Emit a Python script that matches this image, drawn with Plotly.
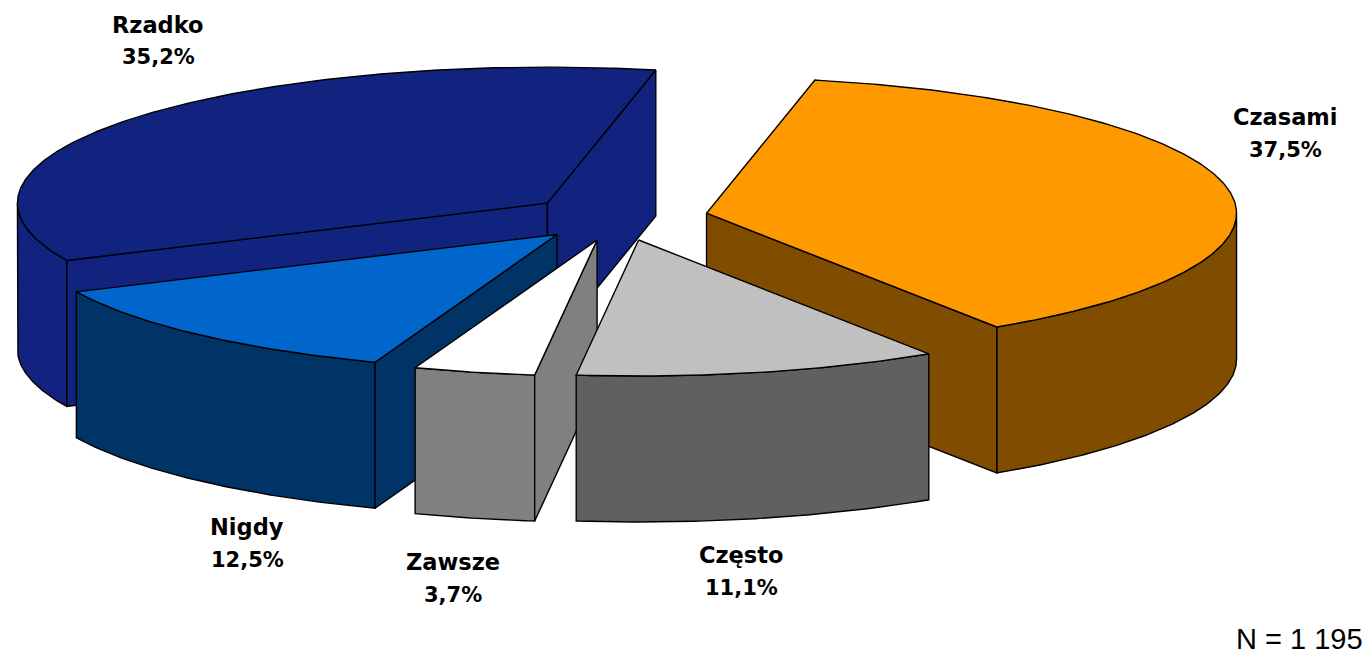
import numpy as np
import plotly.graph_objects as go

# Survey answers, clockwise from the start angle
categories = ["Czasami", "Często", "Zawsze", "Nigdy", "Rzadko"]
shares = [37.5, 11.1, 3.7, 12.5, 35.2]
top_colors = ["#ff9900", "#c0c0c0", "#ffffff", "#0066cc", "#12237f"]
side_colors = ["#804c00", "#606060", "#808080", "#003366", "#12237f"]
sample_note = "N = 1 195"

# Label anchors (centre x, name y, value y)
label_anchor = {
    "Czasami": (1285, 117, 150),
    "Często": (741, 555, 588),
    "Zawsze": (453, 562, 595),
    "Nigdy": (247, 527, 560),
    "Rzadko": (158, 25, 57),
}

# Oblique projection of the exploded pie
CX, CY = 618, 217.5
RX, RY = 530, 136
DEPTH = 146
EXPLODE = 0.17
START = 11.8
DRAW_ORDER = ["Rzadko", "Nigdy", "Czasami", "Zawsze", "Często"]
OUTLINE = "#000000"


def project(deg, cx, cy):
    t = np.radians(deg)
    return cx + RX * np.sin(t), cy - RY * np.cos(t)


def arc(a, b, cx, cy):
    n = max(2, int(abs(b - a) * 2))
    return project(np.linspace(a, b, n), cx, cy)


def add_polygon(fig, xs, ys, color):
    fig.add_trace(go.Scatter(
        x=list(xs) + [xs[0]], y=list(ys) + [ys[0]],
        mode="lines", fill="toself", fillcolor=color,
        line=dict(color=OUTLINE, width=1.4),
        hoverinfo="skip", showlegend=False,
    ))


def add_cut_face(fig, deg, cx, cy, color):
    ex, ey = project(deg, cx, cy)
    add_polygon(fig, [cx, ex, ex, cx], [cy, ey, ey + DEPTH, cy + DEPTH], color)


# Angular span of every slice
spans = {}
angle = START
for name, share in zip(categories, shares):
    sweep = share / sum(shares) * 360
    spans[name] = (angle, angle + sweep)
    angle += sweep

fig = go.Figure()
for name in DRAW_ORDER:
    i = categories.index(name)
    a, b = spans[name]
    mid = np.radians((a + b) / 2)
    cx = CX + EXPLODE * RX * np.sin(mid)
    cy = CY - EXPLODE * RY * np.cos(mid)
    top, side = top_colors[i], side_colors[i]

    # Outer wall: only the half facing the viewer is drawn
    lo, hi = max(a, 90), min(b, 270)
    if lo < hi:
        ux, uy = arc(lo, hi, cx, cy)
        add_polygon(fig,
                    np.concatenate([ux, ux[::-1]]),
                    np.concatenate([uy, uy[::-1] + DEPTH]), side)

    # Radial cut faces that turn towards the viewer
    if np.sin(np.radians(a)) < 0:
        add_cut_face(fig, a, cx, cy, side)
    if np.sin(np.radians(b)) > 0:
        add_cut_face(fig, b, cx, cy, side)

    # Top surface
    ux, uy = arc(a, b, cx, cy)
    add_polygon(fig, np.concatenate([[cx], ux]), np.concatenate([[cy], uy]), top)

annotations = []
for name, share in zip(categories, shares):
    x, y_name, y_value = label_anchor[name]
    value_text = f"{share:.1f}".replace(".", ",") + "%"
    for y, text, size in ((y_name, name, 22.5), (y_value, value_text, 21)):
        annotations.append(dict(
            x=x, y=y, xref="x", yref="y", text=f"<b>{text}</b>", showarrow=False,
            xanchor="center", yanchor="middle",
            font=dict(family="DejaVu Sans", size=size, color="#000000"),
        ))
annotations.append(dict(
    x=1365, y=639, xref="x", yref="y", text=sample_note, showarrow=False,
    xanchor="right", yanchor="middle",
    font=dict(family="Liberation Sans", size=29, color="#000000"),
))

fig.update_layout(
    width=1371, height=656, autosize=False,
    margin=dict(l=0, r=0, t=0, b=0),
    paper_bgcolor="white", plot_bgcolor="white",
    xaxis=dict(range=[0, 1371], visible=False, fixedrange=True),
    yaxis=dict(range=[656, 0], visible=False, fixedrange=True),
    annotations=annotations,
)

fig.write_html("out.html", config={"displayModeBar": False})
